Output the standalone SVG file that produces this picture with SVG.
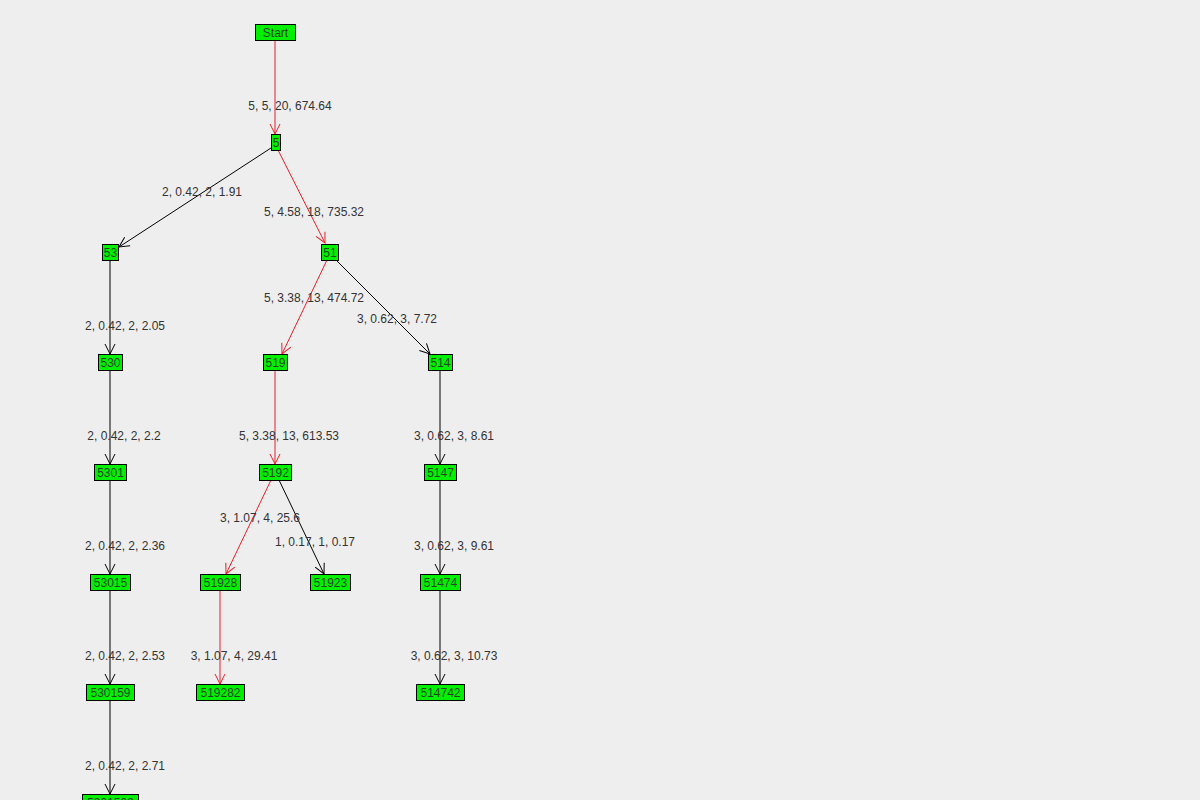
<svg xmlns="http://www.w3.org/2000/svg" width="1200" height="800" viewBox="0 0 1200 800">
<defs>
<style>
.n rect{fill:#00f000;stroke:#000;stroke-width:1}
.n text{font-family:"Liberation Sans",Arial,sans-serif;font-size:12px;fill:#224422;text-anchor:middle}
.l{font-family:"Liberation Sans",Arial,sans-serif;font-size:12px;fill:#333;text-anchor:middle}
.r{stroke:#e8202a;stroke-width:1;fill:none;marker-end:url(#ar)}
.b{stroke:#000;stroke-width:1;fill:none;marker-end:url(#ab)}
</style>
<marker id="ar" viewBox="0 0 12 12" refX="11" refY="6" markerWidth="12" markerHeight="12" markerUnits="userSpaceOnUse" orient="auto"><path d="M1,1 L11,6 L1,11" fill="none" stroke="#e8202a"/></marker>
<marker id="ab" viewBox="0 0 12 12" refX="11" refY="6" markerWidth="12" markerHeight="12" markerUnits="userSpaceOnUse" orient="auto"><path d="M1,1 L11,6 L1,11" fill="none" stroke="#000"/></marker>
</defs>
<rect width="1200" height="800" fill="#eeeeee"/>
<g id="connectors">
<line class="r" x1="275" y1="41" x2="275" y2="134"/>
<line class="b" x1="271" y1="148" x2="119" y2="247"/>
<line class="r" x1="278" y1="150" x2="325" y2="243"/>
<line class="b" x1="110" y1="260" x2="110" y2="354"/>
<line class="r" x1="327" y1="260" x2="282" y2="354"/>
<line class="b" x1="335" y1="259" x2="430" y2="354"/>
<line class="b" x1="110" y1="370" x2="110" y2="464"/>
<line class="r" x1="275" y1="370" x2="275" y2="464"/>
<line class="b" x1="440" y1="370" x2="440" y2="464"/>
<line class="b" x1="110" y1="480" x2="110" y2="574"/>
<line class="r" x1="271" y1="480" x2="226" y2="574"/>
<line class="b" x1="279" y1="480" x2="324" y2="574"/>
<line class="b" x1="440" y1="480" x2="440" y2="574"/>
<line class="b" x1="110" y1="590" x2="110" y2="684"/>
<line class="r" x1="220" y1="590" x2="220" y2="684"/>
<line class="b" x1="440" y1="590" x2="440" y2="684"/>
<line class="b" x1="110" y1="700" x2="110" y2="794"/>
<text class="l" x="290" y="110">5, 5, 20, 674.64</text>
<text class="l" x="202" y="196">2, 0.42, 2, 1.91</text>
<text class="l" x="314" y="216">5, 4.58, 18, 735.32</text>
<text class="l" x="125" y="330">2, 0.42, 2, 2.05</text>
<text class="l" x="314" y="302">5, 3.38, 13, 474.72</text>
<text class="l" x="397" y="323">3, 0.62, 3, 7.72</text>
<text class="l" x="124" y="440">2, 0.42, 2, 2.2</text>
<text class="l" x="289" y="440">5, 3.38, 13, 613.53</text>
<text class="l" x="454" y="440">3, 0.62, 3, 8.61</text>
<text class="l" x="125" y="550">2, 0.42, 2, 2.36</text>
<text class="l" x="260" y="522">3, 1.07, 4, 25.6</text>
<text class="l" x="315" y="546">1, 0.17, 1, 0.17</text>
<text class="l" x="454" y="550">3, 0.62, 3, 9.61</text>
<text class="l" x="125" y="660">2, 0.42, 2, 2.53</text>
<text class="l" x="234" y="660">3, 1.07, 4, 29.41</text>
<text class="l" x="454" y="660">3, 0.62, 3, 10.73</text>
<text class="l" x="125" y="770">2, 0.42, 2, 2.71</text>
</g>
<g id="n-start" class="n"><rect x="255.5" y="24.5" width="40" height="16"/><text x="275.5" y="37">Start</text></g>
<g id="n-5" class="n"><rect x="271.5" y="134.5" width="9" height="16"/><text x="276" y="147">5</text></g>
<g id="n-53" class="n"><rect x="102.5" y="244.5" width="16" height="16"/><text x="110.5" y="257">53</text></g>
<g id="n-51" class="n"><rect x="321.5" y="244.5" width="17" height="16"/><text x="330" y="257">51</text></g>
<g id="n-530" class="n"><rect x="98.5" y="354.5" width="24" height="16"/><text x="110.5" y="367">530</text></g>
<g id="n-519" class="n"><rect x="263.5" y="354.5" width="24" height="16"/><text x="275.5" y="367">519</text></g>
<g id="n-514" class="n"><rect x="428.5" y="354.5" width="24" height="16"/><text x="440.5" y="367">514</text></g>
<g id="n-5301" class="n"><rect x="94.5" y="464.5" width="32" height="16"/><text x="110.5" y="477">5301</text></g>
<g id="n-5192" class="n"><rect x="259.5" y="464.5" width="32" height="16"/><text x="275.5" y="477">5192</text></g>
<g id="n-5147" class="n"><rect x="424.5" y="464.5" width="32" height="16"/><text x="440.5" y="477">5147</text></g>
<g id="n-53015" class="n"><rect x="90.5" y="574.5" width="40" height="16"/><text x="110.5" y="587">53015</text></g>
<g id="n-51928" class="n"><rect x="200.5" y="574.5" width="40" height="16"/><text x="220.5" y="587">51928</text></g>
<g id="n-51923" class="n"><rect x="310.5" y="574.5" width="40" height="16"/><text x="330.5" y="587">51923</text></g>
<g id="n-51474" class="n"><rect x="420.5" y="574.5" width="40" height="16"/><text x="440.5" y="587">51474</text></g>
<g id="n-530159" class="n"><rect x="86.5" y="684.5" width="48" height="16"/><text x="110.5" y="697">530159</text></g>
<g id="n-519282" class="n"><rect x="196.5" y="684.5" width="48" height="16"/><text x="220.5" y="697">519282</text></g>
<g id="n-514742" class="n"><rect x="416.5" y="684.5" width="48" height="16"/><text x="440.5" y="697">514742</text></g>
<g id="n-5301592" class="n"><rect x="82.5" y="794.5" width="56" height="16"/><text x="110.5" y="807">5301592</text></g>
</svg>
